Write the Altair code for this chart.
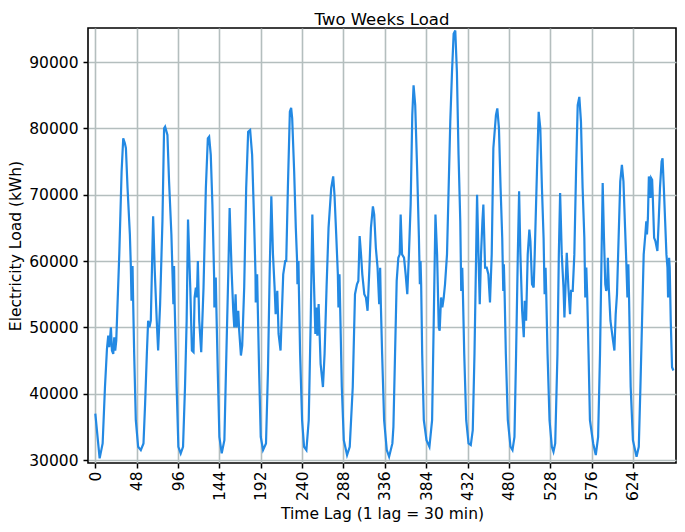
import altair as alt
import pandas as pd

# Time lag positions (half-hour steps) and load values
lag = [0, 5, 8.5, 11.2, 13.5, 15.0, 16.2, 18.1, 19.3, 20.8, 22.0, 23.1, 24.3, 27.8, 30.5, 32.4, 34.3, 35.5,
       37.4, 40.1, 41.2, 42.0, 43.2, 43.9, 45.1, 47.0, 49.7, 52.8, 55.9, 57.8, 59.8, 61.3, 62.8, 64.4,
       67.1, 69.0, 71.3, 72.9, 75.2, 77.9, 79.8, 81.0, 83.7, 85.6, 88.3, 89.4, 90.6, 91.4, 92.1, 94.4,
       96.4, 99.1, 101.8, 104.1, 106.0, 107.6, 110.2, 112.1, 114.0, 115.2, 116.7, 117.9, 119.0, 120.6,
       122.9, 125.6, 128.3, 130.6, 132.1, 134.0, 135.9, 137.9, 138.2, 139.8, 140.5, 142.1, 144.0, 146.7,
       149.8, 152.1, 154.4, 155.9, 158.2, 160.1, 161.3, 162.8, 164.0, 165.9, 167.0, 169.0, 170.5, 172.8,
       175.1, 177.4, 179.7, 182.0, 184.3, 185.9, 186.2, 187.8, 188.5, 190.1, 192.0, 194.7, 198.1, 200.4,
       202.4, 204.3, 206.2, 208.1, 209.3, 211.2, 212.7, 215.0, 216.6, 218.1, 220.4, 221.6, 223.5, 225.8,
       227.3, 228.5, 230.8, 232.7, 234.2, 234.6, 235.8, 236.2, 237.7, 240.0, 242.3, 245.0, 247.7, 250.0,
       251.9, 253.4, 255.4, 256.5, 257.7, 259.2, 261.5, 264.2, 266.1, 268.4, 270.7, 273.8, 276.1, 277.6,
       279.6, 281.5, 282.2, 283.4, 284.2, 286.1, 288.4, 292.2, 295.3, 298.8, 301.4, 303.7, 305.3, 306.8,
       308.4, 309.9, 312.2, 314.1, 316.0, 318.0, 319.9, 322.2, 323.7, 325.6, 327.6, 329.5, 330.6, 331.4,
       332.9, 335.2, 338.3, 341.0, 344.8, 346.0, 347.9, 349.8, 351.7, 353.3, 354.4, 356.0, 358.3, 360.2,
       362.1, 364.0, 366.0, 367.9, 369.4, 371.3, 373.6, 375.6, 376.7, 377.5, 378.2, 379.4, 381.3, 384.4,
       387.8, 390.9, 392.8, 394.8, 396.7, 398.6, 399.7, 401.3, 402.8, 404.4, 405.9, 408.2, 410.1, 412.0,
       414.0, 415.9, 417.8, 419.7, 421.6, 423.6, 424.7, 425.9, 426.6, 428.2, 430.5, 433.2, 435.8, 438.1,
       440.1, 442.0, 443.1, 444.7, 446.2, 447.7, 449.3, 450.4, 452.4, 454.3, 456.2, 458.1, 460.1, 462.0,
       465.0, 466.6, 468.5, 470.4, 472.3, 473.5, 474.2, 475.0, 476.5, 478.8, 481.9, 484.2, 486.5, 488.4,
       490.4, 491.9, 493.4, 495.4, 497.3, 498.4, 500.0, 501.9, 503.8, 505.0, 506.9, 508.8, 510.0, 512.6,
       514.6, 516.5, 518.4, 520.3, 521.5, 522.6, 523.4, 524.9, 527.2, 529.9, 531.8, 533.8, 536.4, 538.0,
       539.5, 541.4, 543.4, 544.5, 546.0, 547.2, 549.1, 551.0, 552.2, 554.1, 556.0, 558.0, 559.9, 561.8,
       563.7, 565.6, 567.6, 568.7, 569.9, 571.0, 572.5, 574.1, 577.9, 580.9, 583.6, 585.8, 587.3, 588.9,
       590.4, 591.9, 593.0, 594.1, 594.9, 596.0, 597.9, 599.4, 600.9, 602.5, 604.0, 605.5, 607.4, 609.3,
       611.2, 613.0, 614.9, 616.4, 617.6, 618.7, 619.5, 621.4, 624.0, 628.2, 630.8, 632.7, 634.6, 636.5,
       638.4, 639.5, 640.3, 641.4, 642.5, 643.7, 644.4, 645.2, 646.3, 647.1, 648.6, 650.1, 652.4, 653.9,
       655.4, 657.3, 658.4, 659.9, 661.4, 662.9, 664.1, 664.8, 666.0, 666.7, 667.9, 669.4, 671.0]

load = [37000, 30250, 32500, 41000, 46750, 48750, 47000, 50000, 46500, 46000, 48500, 46500, 48000, 61000,
        73500, 78500, 77750, 77000, 71000, 64000, 59250, 54000, 59250, 54000, 46000, 36000, 32000, 31500,
        32500, 38500, 46000, 51000, 50000, 51000, 66750, 58500, 51000, 46500, 53500, 66000, 80000, 80250,
        79000, 72000, 64000, 59000, 53500, 59250, 53500, 41000, 32000, 31000, 32000, 41000, 51000, 66250,
        56000, 46500, 46250, 54500, 56000, 54500, 60000, 51000, 46250, 56000, 71000, 78500, 78750, 76000,
        68500, 57500, 53000, 57500, 53000, 43500, 33500, 31000, 33000, 46000, 58500, 68000, 58500, 52500,
        50000, 55000, 50000, 52500, 49500, 45750, 47250, 56000, 71000, 79500, 79750, 76000, 66000, 58000,
        53750, 58000, 53500, 43500, 33500, 31500, 32500, 43500, 58500, 69750, 61000, 56000, 52000, 55500,
        49000, 46500, 52500, 58000, 60000, 60000, 71000, 82500, 83100, 81500, 73500, 65000, 60000, 56500,
        60000, 56500, 46000, 36000, 32000, 31500, 36000, 51000, 67000, 58500, 49000, 53000, 48750, 53500,
        44500, 41000, 46000, 56000, 65000, 71000, 72750, 70000, 64000, 58000, 53000, 58000, 53000, 41000,
        33000, 30750, 32000, 41000, 55000, 56500, 57000, 63750, 61000, 58000, 55000, 54500, 52500, 58500,
        65000, 68250, 67000, 62000, 59000, 53500, 59000, 53500, 46000, 36000, 31500, 30500, 32500, 35000,
        46000, 57000, 60500, 61000, 67000, 61000, 60500, 58000, 55000, 61000, 68500, 82000, 86500, 83500,
        73500, 63500, 56500, 60000, 56500, 46000, 36000, 33000, 32000, 36000, 51000, 67000, 61000, 50000,
        49500, 54500, 53000, 54500, 56500, 61000, 71000, 81000, 88500, 94250, 94750, 88500, 76000, 66000,
        55500, 59000, 55500, 46000, 36000, 32500, 32250, 34500, 46000, 61000, 70000, 61000, 53500, 61000,
        66000, 68500, 59000, 59000, 58000, 53750, 61000, 77000, 82000, 83000, 80000, 71000, 63500, 55500,
        59500, 55500, 46000, 36000, 32000, 31500, 33500, 46000, 61000, 70500, 61000, 52500, 48500, 54000,
        51000, 61000, 64750, 63000, 56500, 56000, 61000, 73500, 82500, 80000, 71000, 63500, 55000, 59000,
        55000, 46000, 36000, 32000, 31250, 32500, 46000, 61000, 70250, 61000, 56000, 51500, 57000, 61250,
        56000, 52000, 55500, 55500, 61000, 73500, 83500, 84750, 81000, 71000, 63500, 54500, 59000, 54500,
        46000, 36000, 32500, 30750, 33500, 46000, 58500, 71750, 63500, 56500, 55500, 56000, 60500, 56000,
        51000, 49500, 48000, 46500, 52000, 55000, 63500, 72000, 74500, 72000, 65000, 59500, 54500, 59500,
        54500, 41000, 33000, 30500, 32000, 41000, 51000, 61000, 64000, 66000, 64000, 66500, 72750, 71500,
        69500, 72500, 72250, 69500, 63500, 63000, 61500, 66000, 71000, 75000, 75500, 71000, 66000, 61000,
        59000, 54500, 60500, 59000, 51000, 44000, 43500]

x_ticks = [0, 48, 96, 144, 192, 240, 288, 336, 384, 432, 480, 528, 576, 624]
y_ticks = [30000, 40000, 50000, 60000, 70000, 80000, 90000]

df = pd.DataFrame({"lag": lag, "load": load})

FONT = "DejaVu Sans"
GRID = "#b4bebe"
PLOT_W = 588
PLOT_H = 435

chart = (
    alt.Chart(df)
    .mark_line(color="#2389e3", strokeWidth=2.2, clip=True)
    .encode(
        x=alt.X(
            "lag:Q",
            scale=alt.Scale(domain=[-8.5, 674], nice=False, zero=False),
            axis=alt.Axis(
                values=x_ticks,
                title="Time Lag (1 lag = 30 min)",
                labelAngle=270,
                labelFont=FONT,
                labelFontSize=15.5,
                labelColor="#000000",
                labelPadding=3,
                titleFont=FONT,
                titleFontSize=15.5,
                titleFontWeight="normal",
                titleColor="#000000",
                titlePadding=6,
                tickColor="#000000",
                tickSize=5,
                tickWidth=1.5,
                domain=False,
                grid=True,
                gridColor=GRID,
                gridWidth=1.6,
            ),
        ),
        y=alt.Y(
            "load:Q",
            scale=alt.Scale(domain=[29550, 95130], nice=False, zero=False),
            axis=alt.Axis(
                values=y_ticks,
                format="d",
                title="Electricity Load (kWh)",
                titleAngle=270,
                titleAlign="center",
                titleBaseline="alphabetic",
                titleX=-68,
                titleY=PLOT_H / 2,
                labelFont=FONT,
                labelFontSize=15.5,
                labelColor="#000000",
                labelPadding=5,
                titleFont=FONT,
                titleFontSize=15.5,
                titleFontWeight="normal",
                titleColor="#000000",
                tickColor="#000000",
                tickSize=5,
                tickWidth=1.5,
                domain=False,
                grid=True,
                gridColor=GRID,
                gridWidth=1.6,
            ),
        ),
    )
    .properties(
        width=PLOT_W,
        height=PLOT_H,
        title=alt.TitleParams(
            "Two Weeks Load",
            font=FONT,
            fontSize=16.5,
            fontWeight="normal",
            color="#000000",
            offset=0,
        ),
        autosize=alt.AutoSizeParams(type="none"),
        padding={"left": 80, "top": 20, "right": 1, "bottom": 60},
    )
    .configure_view(stroke="#000000", strokeWidth=1.6)
)

chart.save("out.html", embed_options={"renderer": "svg", "actions": False})
